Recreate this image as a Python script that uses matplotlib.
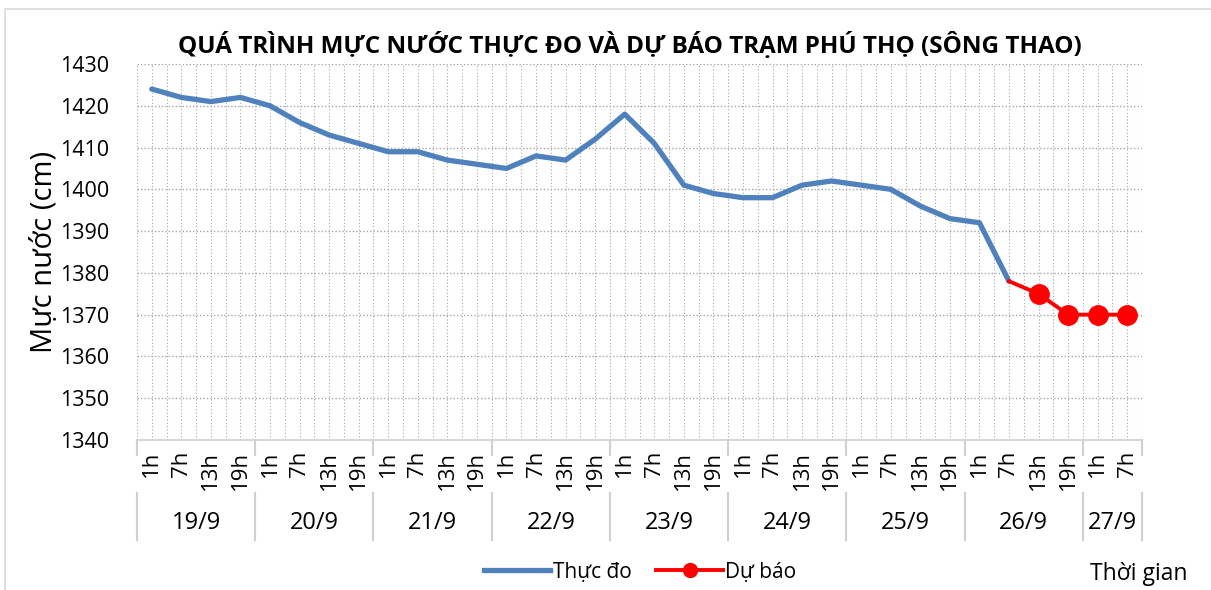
"""
Water level at Phu Tho station (Thao river): observed and forecast.
"""

import matplotlib.pyplot as plt
from matplotlib.lines import Line2D
from matplotlib.patches import Rectangle

plt.rcParams["font.family"] = ["Open Sans", "DejaVu Sans"]

# --- data ---------------------------------------------------------------
DAYS = ["19/9", "20/9", "21/9", "22/9", "23/9", "24/9", "25/9", "26/9", "27/9"]
HOURS = ["1h", "7h", "13h", "19h"]
HOUR_LABELS = HOURS * 8 + ["1h", "7h"]

OBSERVED = [1424, 1422, 1421, 1422,
            1420, 1416, 1413, 1411,
            1409, 1409, 1407, 1406,
            1405, 1408, 1407, 1412,
            1418, 1411, 1401, 1399,
            1398, 1398, 1401, 1402,
            1401, 1400, 1396, 1393,
            1392, 1378]
FORECAST = [1378, 1375, 1370, 1370, 1370]   # from 26/9 7h onwards

C_OBS = "#4f81bd"
C_FC = "#ff0000"
C_GRID = "#a6a6a6"

n = len(HOUR_LABELS)
x_obs = list(range(len(OBSERVED)))
x_fc = list(range(len(OBSERVED) - 1, len(OBSERVED) - 1 + len(FORECAST)))

fig = plt.figure(figsize=(12.11, 5.90), dpi=100)
ax = fig.add_axes([137 / 1211, 1 - 440 / 590, 1005 / 1211, 376 / 590])

# outer chart frame
fig.patches.append(Rectangle((5 / 1211, -0.1), 1.2, 1 - 9 / 590 + 0.1,
                             transform=fig.transFigure, fill=False,
                             ec="#d9d9d9", lw=1.2))

ax.plot(x_obs, OBSERVED, color=C_OBS, lw=3.8, solid_capstyle="round", zorder=3)
ax.plot(x_fc, FORECAST, color=C_FC, lw=2.8, marker="o", ms=14,
        markevery=list(range(1, len(FORECAST))), zorder=4)

ax.set_xlim(-0.5, n - 0.5)
ax.set_ylim(1340, 1430)
ax.set_yticks(range(1340, 1431, 10))
ax.tick_params(axis="y", labelsize=15.5, length=0, pad=20)

# dotted grid: every 10 cm, and every half category
for y in range(1350, 1431, 10):
    ax.axhline(y, color=C_GRID, lw=1.0, ls=(0, (1, 1.5)), zorder=1)
for i in range(2 * n + 1):
    ax.axvline(-0.5 + i * 0.5, color=C_GRID, lw=0.8, ls=(0, (1, 2)), zorder=1)

for side in ("left", "right", "top"):
    ax.spines[side].set_visible(False)
ax.spines["bottom"].set_color("#d0d0d0")
ax.spines["bottom"].set_linewidth(1.2)

# two-level category axis
ax.set_xticks(range(n))
ax.set_xticklabels(HOUR_LABELS, rotation=90, fontsize=16, va="top")
ax.tick_params(axis="x", length=0, pad=8)

trans = ax.get_xaxis_transform()
starts = list(range(0, n, 4)) + [n]
for k, day in enumerate(DAYS):
    a, b = starts[k] - 0.5, min(starts[k + 1], n) - 0.5
    ax.text((a + b) / 2, -0.221, day, transform=trans, ha="center",
            va="center", fontsize=17)
for s in starts:
    xb = s - 0.5
    for y0, y1 in ((0, -0.04), (-0.141, -0.266)):
        ax.add_line(Line2D([xb, xb], [y0, y1], transform=trans, color="#d0d0d0",
                           lw=1.5, clip_on=False))

ax.set_ylabel("Mực nước (cm)", fontsize=21)
ax.yaxis.set_label_coords(-0.078, 0.5)

fig.text(630 / 1211, 1 - 45 / 590,
         "QUÁ TRÌNH MỰC NƯỚC THỰC ĐO VÀ DỰ BÁO TRẠM PHÚ THỌ (SÔNG THAO)",
         ha="center", va="center", fontsize=17.5, fontweight="bold")

handles = [Line2D([], [], color=C_OBS, lw=3.8),
           Line2D([], [], color=C_FC, lw=2.8, marker="o", ms=10)]
fig.legend(handles, ["Thực đo", "Dự báo"], loc="center",
           bbox_to_anchor=(640 / 1211, 1 - 572 / 590), ncol=2, frameon=False,
           fontsize=15, handlelength=3.2, handletextpad=0.1, columnspacing=1.2)

fig.text(1090 / 1211, 1 - 574 / 590, "Thời gian", ha="left", va="center",
         fontsize=16.5)

fig.savefig("out.png", dpi=100)
